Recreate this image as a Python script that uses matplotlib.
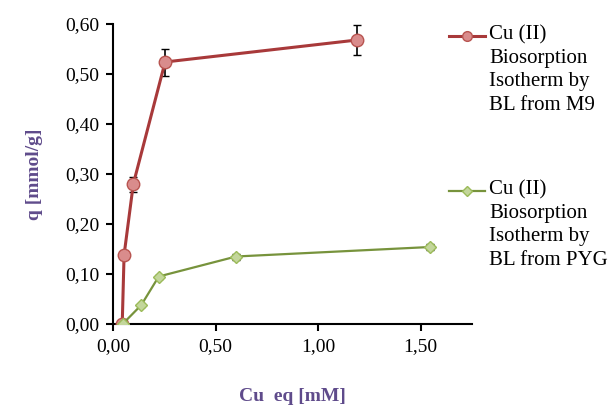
import matplotlib
matplotlib.use('Agg')
import matplotlib.pyplot as plt
from matplotlib.lines import Line2D
from matplotlib.ticker import FuncFormatter

plt.rcParams.update({
    'font.family': ['Liberation Serif', 'DejaVu Serif'],
    'font.size': 11,
})

# data
m9_x = [0.045, 0.054, 0.099, 0.254, 1.19]
m9_y = [0.0, 0.138, 0.280, 0.524, 0.568]
m9_err = [0.0, 0.004, 0.015, 0.027, 0.030]

pyg_x = [0.047, 0.138, 0.223, 0.60, 1.546]
pyg_y = [0.0, 0.038, 0.095, 0.135, 0.154]
pyg_err = [0.002, 0.003, 0.004, 0.006, 0.006]

labels = ['Cu (II)\nBiosorption\nIsotherm by\nBL from M9',
          'Cu (II)\nBiosorption\nIsotherm by\nBL from PYG']

RED_LINE, RED_FILL, RED_EDGE = '#A8393A', '#D98C8C', '#B85450'
GRN_LINE, GRN_FILL, GRN_EDGE = '#77933C', '#C3D69B', '#9BBB59'
PURPLE = '#5F4B8B'

W, H = 613, 405
fig = plt.figure(figsize=(W/100, H/100), dpi=100)
ax = fig.add_axes([113/W, 1 - 324/H, (472-113)/W, (324-24)/H])

ax.errorbar(m9_x, m9_y, yerr=m9_err, color=RED_LINE, lw=2.2, marker='o', ms=9,
            mfc=RED_FILL, mec=RED_EDGE, mew=1, ecolor='black', elinewidth=1.2,
            capsize=3, capthick=1.2, zorder=3)
ax.errorbar(pyg_x, pyg_y, yerr=pyg_err, color=GRN_LINE, lw=1.6, marker='D', ms=6.5,
            mfc=GRN_FILL, mec=GRN_EDGE, mew=1, ecolor='black', elinewidth=1.2,
            capsize=3, capthick=1.2, zorder=4)

ax.set_xlim(0, 1.75)
ax.set_ylim(0, 0.6)
ax.set_xticks([0, 0.5, 1.0, 1.5])
ax.set_yticks([0, 0.1, 0.2, 0.3, 0.4, 0.5, 0.6])
fmt = FuncFormatter(lambda v, p: f'{v:.2f}'.replace('.', ','))
ax.xaxis.set_major_formatter(fmt)
ax.yaxis.set_major_formatter(fmt)
for s in ['top', 'right']:
    ax.spines[s].set_visible(False)
for s in ['left', 'bottom']:
    ax.spines[s].set_linewidth(1.5)
ax.tick_params(direction='out', length=5, width=1.5, labelsize=14, pad=5)

ax.set_xlabel('Cu  eq [mM]', fontsize=14, fontweight='bold', color=PURPLE, labelpad=24)
ax.set_ylabel('q [mmol/g]', fontsize=14, fontweight='bold', color=PURPLE, labelpad=16)

# legend drawn by hand: handle sits on the first text line
styles = [dict(color=RED_LINE, lw=2.2, marker='o', ms=7, mfc=RED_FILL, mec=RED_EDGE),
          dict(color=GRN_LINE, lw=1.6, marker='D', ms=5.5, mfc=GRN_FILL, mec=GRN_EDGE)]
for ypx, lab, st in zip([36, 191], labels, styles):
    yf = 1 - ypx/H
    fig.add_artist(Line2D([449/W, 485/W], [yf, yf], transform=fig.transFigure,
                          color=st['color'], lw=st['lw']))
    fig.add_artist(Line2D([467/W], [yf], transform=fig.transFigure, ls='none',
                          marker=st['marker'], ms=st['ms'], mfc=st['mfc'], mec=st['mec']))
    fig.text(489/W, 1 - (ypx - 11)/H, lab, ha='left', va='top', fontsize=15,
             linespacing=1.33)

fig.savefig('out.png', dpi=100)
